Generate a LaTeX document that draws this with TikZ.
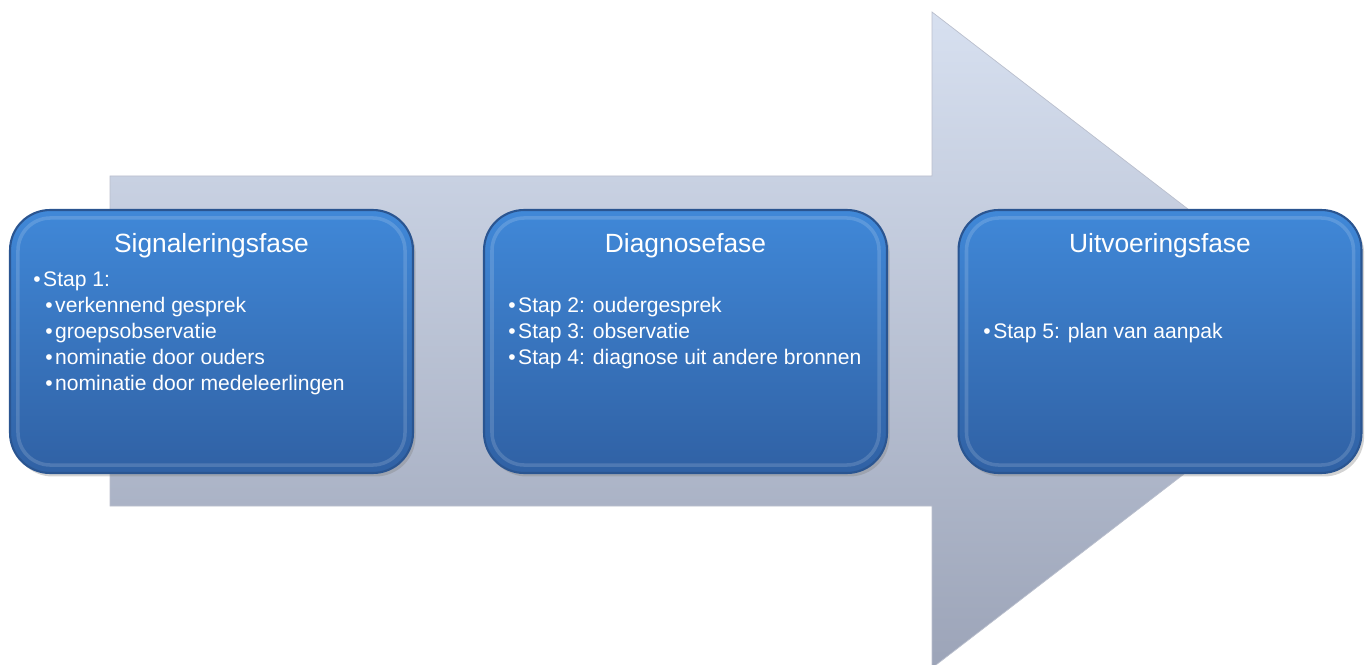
\documentclass[tikz,border=0pt]{standalone}
\usepackage{fontspec}
\setmainfont{Liberation Sans}
\usetikzlibrary{shadows}
\definecolor{arrowtop}{HTML}{D7E0F0}
\definecolor{arrowbot}{HTML}{9CA4B8}
\definecolor{boxtop}{HTML}{4088D8}
\definecolor{boxbot}{HTML}{3061A4}
\definecolor{boxrim}{HTML}{2A5591}
\tikzset{
	phasebox/.style={rounded corners=0.8cm, minimum width=8.06cm, minimum height=5.26cm,
		top color=boxtop, bottom color=boxbot, draw=boxrim, line width=1.2pt,
		drop shadow={opacity=0.35, shadow xshift=1.5pt, shadow yshift=-2pt}},
	phasetitle/.style={anchor=base, text=white, inner sep=0pt, font=\fontsize{15}{18}\selectfont},
	phaseitem/.style={anchor=base west, text=white, inner sep=0pt, font=\fontsize{12}{14.5}\selectfont},
}
\begin{document}
\begin{tikzpicture}[x=0.02cm, y=-0.02cm]
		\useasboundingbox (0,0) rectangle (1371,665);
		% big arrow in the back
		\shade [top color=arrowtop, bottom color=arrowbot, draw=arrowbot!70, line width=0.4pt]
			(110,176) -- (932,176) -- (932,12) -- (1358,340) -- (932,668) -- (932,506) -- (110,506) -- cycle;
		
		\node [phasebox] (sig) at (211.5, 341.5) {};
		\node [phasebox] (diag) at (685.5, 341.5) {};
		\node [phasebox] (uitv) at (1160, 341.5) {};
		% inner highlight
		\foreach \b in {sig, diag, uitv}
			\draw [white, opacity=0.15, line width=2pt, rounded corners=0.65cm]
				([shift={(9,9)}]\b.north west) rectangle ([shift={(-9,-9)}]\b.south east);
		
		\node [phasetitle] (sigT) at (211.5, 253) {Signaleringsfase};
		\node [phasetitle] (diagT) at (685.5, 253) {Diagnosefase};
		\node [phasetitle] (uitvT) at (1160, 253) {Uitvoeringsfase};
		
		\node [phaseitem] (sig1) at (33, 287) {•\hspace{0.12em}Stap 1:};
		\node [phaseitem] (sig2) at (45, 313) {•\hspace{0.12em}verkennend gesprek};
		\node [phaseitem] (sig3) at (45, 338) {•\hspace{0.12em}groepsobservatie};
		\node [phaseitem] (sig4) at (45, 364) {•\hspace{0.12em}nominatie door ouders};
		\node [phaseitem] (sig5) at (45, 390) {•\hspace{0.12em}nominatie door medeleerlingen};
		
		\node [phaseitem] (diag1) at (508, 313) {•\hspace{0.12em}Stap 2: oudergesprek};
		\node [phaseitem] (diag2) at (508, 338) {•\hspace{0.12em}Stap 3: observatie};
		\node [phaseitem] (diag3) at (508, 364) {•\hspace{0.12em}Stap 4: diagnose uit andere bronnen};
		
		\node [phaseitem] (uitv1) at (983, 338) {•\hspace{0.12em}Stap 5: plan van aanpak};
		
\end{tikzpicture}
\end{document}
